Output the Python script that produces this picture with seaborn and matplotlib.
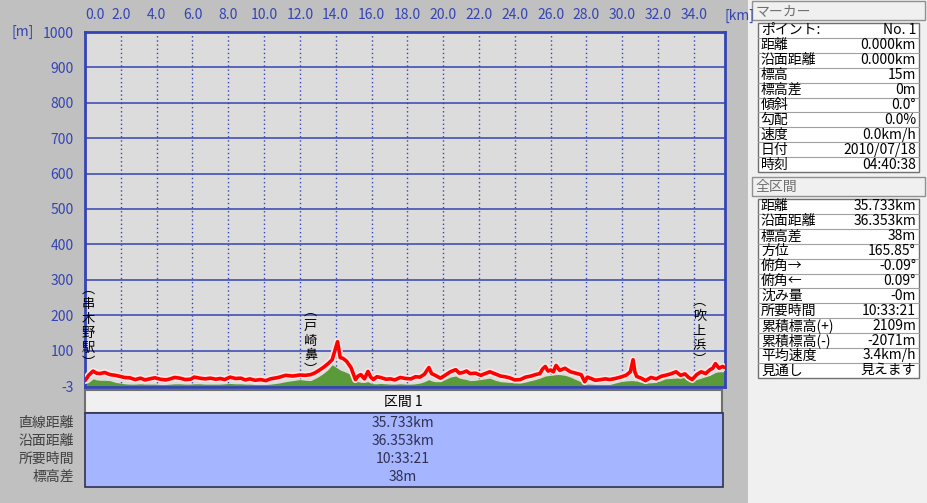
import numpy as np
import pandas as pd
import matplotlib
matplotlib.use("Agg")
import matplotlib.pyplot as plt
import matplotlib.patheffects as pe
from matplotlib.patches import Rectangle
import seaborn as sns

# profile data (distance km, elevation m)
dist_km = [0.0, 0.2, 0.45, 0.65, 0.84, 1.1, 1.4, 1.7, 1.96, 2.2,
           2.5, 2.8, 3.1, 3.35, 3.6, 3.9, 4.2, 4.5, 4.76, 5.0,
           5.3, 5.6, 5.9, 6.1, 6.4, 6.7, 7.0, 7.3, 7.55, 7.8,
           8.1, 8.4, 8.7, 8.95, 9.2, 9.5, 9.8, 10.1, 10.35, 10.8,
           11.2, 11.6, 12.0, 12.3, 12.6, 12.8, 13.0, 13.3, 13.55, 13.8,
           14.1, 14.25, 14.4, 14.6, 14.85, 15.1, 15.25, 15.4, 15.6, 15.8,
           15.95, 16.1, 16.3, 16.5, 16.8, 17.05, 17.3, 17.6, 17.9, 18.2,
           18.45, 18.7, 18.95, 19.2, 19.35, 19.55, 19.85, 20.1, 20.4, 20.7,
           20.9, 21.1, 21.3, 21.5, 21.8, 22.1, 22.35, 22.6, 22.9, 23.2,
           23.45, 23.7, 24.0, 24.3, 24.6, 24.9, 25.15, 25.4, 25.55, 25.7,
           25.85, 26.0, 26.15, 26.3, 26.5, 26.8, 27.1, 27.4, 27.7, 27.9,
           28.05, 28.2, 28.5, 28.8, 29.05, 29.3, 29.6, 29.9, 30.2, 30.45,
           30.6, 30.7, 30.8, 31.05, 31.3, 31.6, 31.9, 32.15, 32.4, 32.7,
           33.0, 33.25, 33.5, 33.7, 33.9, 34.15, 34.4, 34.65, 34.9, 35.05,
           35.2, 35.4, 35.6, 35.73]
track_m = [15, 30, 42, 36, 35, 38, 32, 30, 27, 24,
           23, 18, 22, 17, 20, 23, 19, 17, 20, 24,
           22, 18, 19, 25, 22, 20, 22, 19, 21, 18,
           25, 21, 22, 17, 20, 16, 18, 15, 20, 24,
           30, 28, 31, 30, 32, 36, 42, 52, 62, 74,
           125, 80, 78, 70, 52, 18, 28, 32, 20, 41,
           25, 18, 26, 24, 19, 20, 17, 24, 21, 20,
           26, 25, 33, 52, 35, 30, 22, 30, 40, 46,
           36, 38, 42, 35, 36, 30, 35, 40, 34, 28,
           26, 23, 17, 18, 25, 28, 32, 35, 48, 55,
           42, 45, 40, 58, 44, 50, 40, 36, 32, 12,
           25, 22, 16, 18, 20, 18, 21, 25, 30, 40,
           74, 40, 27, 22, 15, 24, 20, 27, 30, 34,
           40, 30, 34, 24, 18, 32, 40, 35, 46, 50,
           63, 50, 55, 52]
ground_m = [5, 10, 20, 17, 16, 16, 15, 10, 8, 6,
            5, 5, 6, 5, 5, 5, 4, 4, 5, 6,
            6, 5, 5, 6, 6, 5, 5, 5, 5, 6,
            7, 6, 6, 5, 5, 4, 4, 4, 5, 8,
            12, 15, 18, 16, 15, 20, 25, 35, 45, 60,
            50, 45, 42, 38, 32, 15, 12, 10, 10, 12,
            8, 6, 6, 7, 6, 5, 5, 6, 5, 5,
            6, 8, 12, 18, 14, 12, 12, 18, 25, 28,
            22, 20, 18, 15, 16, 18, 20, 22, 16, 12,
            11, 10, 9, 8, 11, 15, 18, 22, 25, 28,
            29, 30, 31, 32, 32, 30, 25, 18, 12, 5,
            5, 5, 4, 4, 4, 4, 8, 12, 14, 15,
            15, 14, 14, 10, 8, 9, 10, 15, 20, 21,
            22, 23, 24, 18, 15, 18, 22, 26, 30, 34,
            38, 40, 40, 40]

x_ticks = [0, 2, 4, 6, 8, 10, 12, 14, 16, 18, 20, 22, 24, 26, 28, 30, 32, 34]
y_ticks = [-3, 100, 200, 300, 400, 500, 600, 700, 800, 900, 1000]

# name, km position, pixel row of top of the column
places = [("串木野駅", 0.17, 283), ("戸崎鼻", 12.6, 305), ("吹上浜", 34.3, 295)]

marker_rows = [("ポイント:", "No. 1"), ("距離", "0.000km"), ("沿面距離", "0.000km"),
               ("標高", "15m"), ("標高差", "0m"), ("傾斜", "0.0°"), ("勾配", "0.0%"),
               ("速度", "0.0km/h"), ("日付", "2010/07/18"), ("時刻", "04:40:38")]
total_rows = [("距離", "35.733km"), ("沿面距離", "36.353km"), ("標高差", "38m"),
              ("方位", "165.85°"), ("俯角→", "-0.09°"), ("俯角←", "0.09°"),
              ("沈み量", "-0m"), ("所要時間", "10:33:21"), ("累積標高(+)", "2109m"),
              ("累積標高(-)", "-2071m"), ("平均速度", "3.4km/h"), ("見通し", "見えます")]
section_labels = ["直線距離", "沿面距離", "所要時間", "標高差"]
section_values = ["35.733km", "36.353km", "10:33:21", "38m"]

df = pd.DataFrame({"km": dist_km, "track": track_m, "ground": ground_m})

sns.set_style("white")
plt.rcParams["font.family"] = ["Noto Sans CJK JP", "DejaVu Sans"]

W, H = 927, 503
BLUE = "#3444b4"


def box(x, y, w, h):
    return [x / W, 1 - (y + h) / H, w / W, h / H]


fig = plt.figure(figsize=(W / 100, H / 100), dpi=100)
fig.patch.set_facecolor("#c0c0c0")

# background layer in pixel coords
bg = fig.add_axes([0, 0, 1, 1], zorder=0)
bg.set_xlim(0, W)
bg.set_ylim(H, 0)
bg.axis("off")
bg.add_patch(Rectangle((748, 0), 179, H, fc="#f0f0f0", ec="none"))

# main profile
ax = fig.add_axes(box(85, 32, 640, 355), zorder=1)
ax.set_facecolor("#dcdcdc")
ax.fill_between(df["km"], -3, df["ground"], color="#5a9a3a", lw=0, zorder=2)
sns.lineplot(data=df, x="km", y="track", ax=ax, color="#ff0000", lw=2.6, zorder=3,
             path_effects=[pe.Stroke(linewidth=5, foreground="#ffe4e4"), pe.Normal()])
ax.set_xlim(0, 35.733)
ax.set_ylim(-3, 1000)
ax.set_xlabel("")
ax.set_ylabel("")
ax.set_xticks(x_ticks)
ax.set_xticklabels([f"{v:.1f}" for v in x_ticks])
ax.set_yticks(y_ticks)
ax.set_yticklabels([str(v) for v in y_ticks])
ax.xaxis.tick_top()
ax.tick_params(axis="x", length=0, pad=7, labelsize=10, labelcolor=BLUE)
ax.tick_params(axis="y", length=0, pad=8, labelsize=10, labelcolor=BLUE)
ax.get_xticklabels()[0].set_horizontalalignment("left")
for v in y_ticks[1:]:
    ax.axhline(v, color=BLUE, lw=1.1, zorder=1)
for v in x_ticks[1:]:
    ax.axvline(v, color=BLUE, lw=1, ls=(0, (1, 2)), zorder=1)
for s in ax.spines.values():
    s.set_color(BLUE)
    s.set_linewidth(2)

# place names, written top to bottom as one text each
for name, xk, ytop in places:
    column = "\n".join(["︵"] + list(name) + ["︶"])
    ax.text(xk, -3 + (387 - ytop) * 1003 / 355, column, ha="center", va="top",
            fontsize=9.5, linespacing=1.18, color="black", zorder=5)

bg.text(12, 32, "[m]", color=BLUE, fontsize=10, va="center")
bg.text(725, 16, "[km]", color=BLUE, fontsize=10, va="center")

# section table below the chart
bg.add_patch(Rectangle((85, 390), 637, 23, fc="#f0f0f0", ec="#707070", lw=1.5))
bg.text(403, 402, "区間 1", ha="center", va="center", fontsize=10, color="black")
bg.add_patch(Rectangle((85, 413), 638, 74, fc="#a5b5ff", ec="#303050", lw=1.2))
for i, (lab, val) in enumerate(zip(section_labels, section_values)):
    yy = 423 + i * 18
    bg.text(74, yy, lab, ha="right", va="center", fontsize=10, color="#404040")
    bg.text(403, yy, val, ha="center", va="center", fontsize=10, color="#303050")


# right hand panel
def panel(title, y0, rows):
    bg.add_patch(Rectangle((752, y0), 173, 19, fc="#f0f0f0", ec="#909090", lw=1))
    bg.text(756, y0 + 10, title, va="center", fontsize=10, color="#707070")
    top = y0 + 22
    rh = 14.9
    bg.add_patch(Rectangle((758, top), 161, rh * len(rows), fc="white", ec="#707070", lw=1))
    for i, (lab, val) in enumerate(rows):
        yc = top + rh * (i + 0.5)
        if i > 0:
            bg.plot([758, 919], [top + rh * i] * 2, color="#a0a0a0", lw=0.8)
        bg.text(761, yc, lab, va="center", fontsize=10, color="black")
        bg.text(916, yc, val, va="center", ha="right", fontsize=10, color="black")


panel("マーカー", 1, marker_rows)
panel("全区間", 177, total_rows)

fig.savefig("out.png", dpi=100, facecolor=fig.get_facecolor())
